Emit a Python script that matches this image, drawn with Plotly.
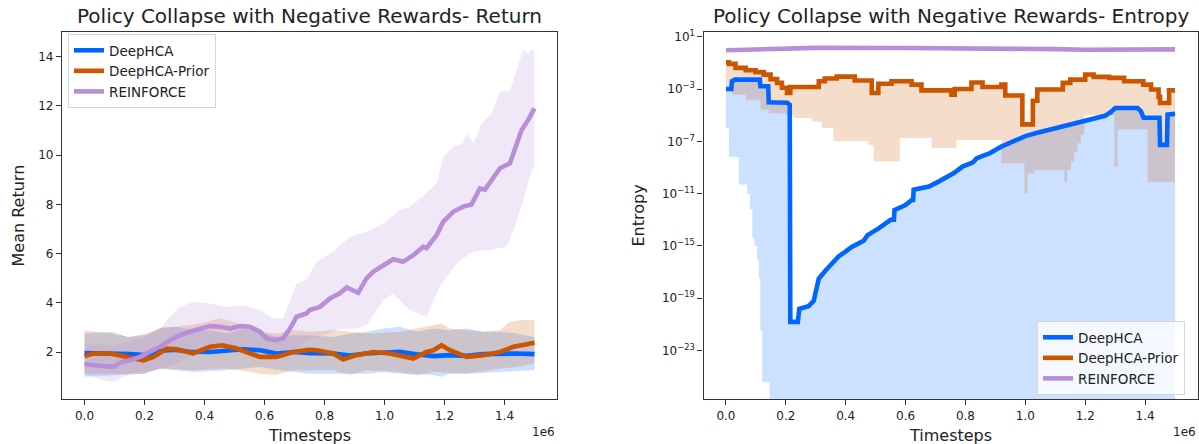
import numpy as np
import plotly.graph_objects as go

# ---------------- Return panel (timesteps in units of 1e6) ----------------
ret_hca_x = [0, 0.05, 0.09, 0.15, 0.2, 0.25, 0.3, 0.35, 0.42, 0.47, 0.53, 0.585, 0.64, 0.7,
             0.75, 0.83, 0.885, 0.94, 1.0, 1.05, 1.107, 1.163, 1.218, 1.274, 1.33, 1.385, 1.44, 1.5]
ret_hca_mean = [1.97, 1.96, 1.95, 1.92, 1.88, 2.05, 2.1, 2.02, 2.01, 2.08, 2.12, 2.08, 1.95, 2.01,
                1.96, 1.95, 1.86, 1.95, 2.01, 2.02, 1.92, 1.84, 1.88, 1.85, 1.92, 1.95, 1.95, 1.92]
ret_hca_up_x = [0, 0.09, 0.146, 0.2, 0.25, 0.307, 0.362, 0.418, 0.474, 0.53, 0.585, 0.64, 0.696,
                0.75, 0.829, 0.885, 0.94, 0.996, 1.051, 1.107, 1.163, 1.218, 1.274, 1.33, 1.385, 1.44, 1.5]
ret_hca_up = [2.76, 2.83, 2.62, 2.69, 2.96, 3.03, 2.89, 2.89, 2.76, 2.96, 2.83, 2.62, 2.69,
              2.69, 2.62, 2.76, 2.83, 2.96, 3.03, 2.83, 2.96, 2.89, 2.96, 2.83, 2.83, 2.76, 2.62]
ret_hca_lo_x = [0, 0.09, 0.2, 0.25, 0.307, 0.362, 0.474, 0.585, 0.696, 0.75, 0.829, 0.94, 0.996,
                1.051, 1.163, 1.19, 1.218, 1.274, 1.385, 1.5]
ret_hca_lo = [1.0, 1.07, 1.13, 1.34, 1.27, 1.2, 1.27, 1.4, 1.2, 1.13, 1.13, 1.13, 1.2,
              1.13, 1.07, 1.0, 1.13, 1.13, 1.2, 1.27]

ret_prior_x = [0, 0.03, 0.085, 0.14, 0.196, 0.23, 0.274, 0.307, 0.362, 0.418, 0.46, 0.507, 0.54,
               0.585, 0.64, 0.696, 0.75, 0.774, 0.829, 0.862, 0.907, 0.962, 1.018, 1.051, 1.096,
               1.14, 1.163, 1.19, 1.218, 1.274, 1.33, 1.385, 1.43, 1.5]
ret_prior_mean = [1.84, 1.95, 1.95, 1.81, 1.67, 1.81, 2.15, 2.12, 1.95, 2.22, 2.28, 2.15, 2.01,
                  1.81, 1.81, 2.01, 2.1, 2.08, 1.95, 1.7, 1.88, 2.01, 1.95, 1.88, 1.74,
                  2.01, 2.08, 2.28, 2.08, 1.81, 1.88, 2.01, 2.22, 2.38]
ret_prior_up_x = [0, 0.09, 0.146, 0.21, 0.263, 0.307, 0.385, 0.451, 0.496, 0.54, 0.585, 0.64, 0.696,
                  0.75, 0.829, 0.885, 0.94, 1.051, 1.19, 1.218, 1.274, 1.33, 1.385, 1.418, 1.46, 1.5]
ret_prior_up = [2.89, 2.76, 2.62, 2.76, 3.03, 3.03, 3.17, 3.37, 3.24, 3.03, 2.83, 2.76, 2.9,
                2.83, 2.9, 2.83, 2.76, 2.83, 3.17, 2.96, 2.9, 2.83, 2.9, 3.24, 3.31, 3.31]
ret_prior_lo_x = [0, 0.09, 0.2, 0.25, 0.362, 0.474, 0.585, 0.64, 0.696, 0.75, 0.829, 0.885, 0.94,
                  1.051, 1.107, 1.163, 1.274, 1.385, 1.44, 1.5]
ret_prior_lo = [1.13, 1.13, 1.13, 1.34, 1.27, 1.34, 1.13, 1.07, 1.27, 1.27, 1.27, 1.07, 1.27,
                1.2, 1.07, 1.2, 1.13, 1.34, 1.4, 1.54]

ret_rf_x = [0, 0.029, 0.062, 0.096, 0.124, 0.151, 0.185, 0.218, 0.251, 0.285, 0.318, 0.351, 0.385,
            0.418, 0.451, 0.485, 0.518, 0.551, 0.585, 0.607, 0.635, 0.662, 0.685, 0.707, 0.74,
            0.751, 0.785, 0.818, 0.851, 0.874, 0.912, 0.94, 0.962, 0.996, 1.029, 1.062, 1.096,
            1.129, 1.14, 1.174, 1.196, 1.229, 1.262, 1.29, 1.318, 1.335, 1.357, 1.385, 1.418,
            1.44, 1.457, 1.479, 1.5]
ret_rf_mean = [1.51, 1.47, 1.43, 1.40, 1.61, 1.67, 1.81, 2.01, 2.22, 2.49, 2.69, 2.83, 2.96,
               3.06, 3.03, 2.96, 3.06, 3.03, 2.83, 2.56, 2.49, 2.56, 2.96, 3.44, 3.57,
               3.71, 3.84, 4.18, 4.39, 4.63, 4.41, 5.0, 5.26, 5.54, 5.77, 5.67, 5.94,
               6.28, 6.22, 6.76, 7.3, 7.70, 7.91, 8.0, 8.65, 8.6, 9.0, 9.47, 9.67,
               10.48, 11.02, 11.43, 11.9]
ret_rf_up_x = [0, 0.1, 0.2, 0.25, 0.285, 0.318, 0.362, 0.418, 0.474, 0.529, 0.585, 0.629, 0.662,
               0.685, 0.707, 0.74, 0.774, 0.829, 0.885, 0.94, 0.996, 1.051, 1.085, 1.14, 1.174,
               1.196, 1.229, 1.262, 1.274, 1.296, 1.324, 1.357, 1.385, 1.418, 1.44, 1.462, 1.479,
               1.49, 1.5]
ret_rf_up = [2.3, 2.3, 2.6, 2.9, 3.44, 3.84, 4.04, 3.98, 3.84, 3.9, 3.71, 3.37, 3.37,
             4.11, 4.79, 4.93, 5.67, 6.08, 6.69, 6.89, 7.23, 7.77, 7.91, 8.45, 8.86,
             9.94, 10.35, 10.48, 10.89, 10.48, 11.3, 11.7, 12.58, 12.6, 13.47, 14.28, 14.15,
             14.28, 14.2]
ret_rf_lo_x = [0, 0.03, 0.062, 0.096, 0.13, 0.18, 0.25, 0.3, 0.35, 0.4, 0.5, 0.6, 0.7, 0.75, 0.8,
               0.85, 0.9, 0.94, 0.996, 1.029, 1.085, 1.14, 1.163, 1.19, 1.246, 1.296, 1.35,
               1.407, 1.43, 1.46, 1.49, 1.5]
ret_rf_lo = [1.13, 1.0, 0.86, 0.79, 1.0, 1.2, 1.3, 1.5, 1.8, 2.0, 2.1, 2.0, 2.1, 2.5, 2.7,
             2.95, 2.95, 3.1, 4.1, 4.38, 3.71, 3.44, 4.1, 4.79, 5.67, 6.08, 6.15,
             6.28, 6.96, 8.05, 9.4, 9.5]

# ---------------- Entropy panel (log10 of entropy) ----------------
# DeepHCA mean: vertices of the drawn curve (vertical jumps as repeated x)
ent_hca_x = [0.0, 0.018, 0.02, 0.03, 0.113, 0.115, 0.141, 0.143, 0.205, 0.213, 0.215, 0.24, 0.245,
             0.276, 0.293, 0.30, 0.31, 0.332, 0.354, 0.376, 0.398, 0.42, 0.443, 0.46, 0.473, 0.51,
             0.55, 0.561, 0.563, 0.60, 0.62, 0.625, 0.627, 0.678, 0.71, 0.73, 0.76, 0.79, 0.825,
             0.838, 0.882, 0.92, 0.96, 1.0, 1.04, 1.074, 1.113, 1.15, 1.19, 1.228, 1.266, 1.286,
             1.30, 1.375, 1.386, 1.395, 1.448, 1.45, 1.473, 1.475, 1.5]
ent_hca_log = [-3.0, -3.0, -2.4, -2.28, -2.28, -2.79, -2.79, -4.02, -4.05, -4.2, -20.8, -20.8, -19.8,
               -19.6, -19.2, -18.5, -17.5, -16.9, -16.35, -15.8, -15.45, -15.07, -14.8, -14.6, -14.17,
               -13.66, -13.0, -13.0, -12.25, -11.87, -11.49, -11.49, -10.7, -10.46, -10.08, -9.82,
               -9.44, -8.93, -8.6, -8.29, -7.9, -7.4, -7.0, -6.6, -6.35, -6.15, -5.9, -5.65, -5.45,
               -5.25, -5.05, -4.75, -4.45, -4.45, -4.7, -5.2, -5.2, -7.27, -7.27, -4.95, -4.9]
ent_hca_lo_x = [0.0, 0.01, 0.043, 0.071, 0.08, 0.088, 0.095, 0.104, 0.11, 0.115, 0.121, 0.146, 1.5]
ent_hca_lo_log = [-6.0, -8.2, -10.3, -11.0, -12.2, -14.4, -15.0, -16.1, -17.5, -21.5, -25.4, -40, -40]

ent_prior_x = [0.0, 0.01, 0.032, 0.066, 0.099, 0.126, 0.149, 0.171, 0.187, 0.204, 0.215, 0.31,
               0.33, 0.37, 0.43, 0.487, 0.509, 0.553, 0.62, 0.653, 0.753, 0.764, 0.82, 0.857,
               0.92, 0.933, 0.99, 1.025, 1.04, 1.11, 1.125, 1.15, 1.20, 1.228, 1.28, 1.33,
               1.394, 1.42, 1.445, 1.45, 1.48, 1.5]
ent_prior_log = [-0.95, -1.08, -1.38, -1.56, -1.71, -1.9, -2.24, -2.53, -2.9, -3.3, -2.85, -2.4,
                 -2.2, -2.05, -2.35, -3.3, -2.6, -2.4, -2.66, -3.1, -3.43, -3.0, -2.5, -2.84,
                 -2.66, -3.5, -5.7, -3.9, -3.04, -3.04, -2.53, -2.28, -1.89, -2.07, -2.15, -2.4,
                 -2.66, -3.04, -3.6, -4.07, -3.1, -3.1]
ent_prior_lo_x = [0.0, 0.021, 0.066, 0.115, 0.143, 0.2, 0.226, 0.287, 0.32, 0.359, 0.476, 0.493,
                  0.581, 0.687, 0.77, 0.92, 0.997, 1.008, 1.03, 1.13, 1.14, 1.152, 1.163, 1.174,
                  1.186, 1.197, 1.297, 1.308, 1.408, 1.5]
ent_prior_lo_log = [-2.9, -3.43, -3.82, -4.58, -4.86, -4.99, -5.22, -5.48, -5.98, -7.0, -7.3, -8.55,
                    -6.75, -7.5, -6.9, -8.67, -10.97, -9.44, -9.18, -10.1, -9.2, -8.55, -7.78, -7.14,
                    -6.5, -5.0, -8.93, -6.1, -10.1, -10.1]

ent_rf_x = [0.0, 0.1, 0.2, 0.3, 0.6, 0.9, 1.1, 1.2, 1.35, 1.5]
ent_rf_log = [-0.03, 0.05, 0.12, 0.15, 0.14, 0.12, 0.05, 0.0, 0.02, 0.03]

x_ticks = [0.0, 0.2, 0.4, 0.6, 0.8, 1.0, 1.2, 1.4]
ret_ticks = [2, 4, 6, 8, 10, 12, 14]
ent_tick_exp = [1, -3, -7, -11, -15, -19, -23]

names = ["DeepHCA", "DeepHCA-Prior", "REINFORCE"]
BLUE, ORANGE, PURPLE = "#0066ff", "#cc5500", "#b88ed8"
FONT = "DejaVu Sans"
W, H = 1199, 444


def rgba(h, a):
    h = h.lstrip("#")
    return "rgba(%d,%d,%d,%.2f)" % (int(h[0:2], 16), int(h[2:4], 16), int(h[4:6], 16), a)


fig = go.Figure()


def add_band(xl, yl, xu, yu, color, xa, ya, shape_lo="linear", shape_up="linear"):
    fig.add_trace(go.Scatter(x=xl, y=yl, mode="lines", line=dict(width=0, color=color, shape=shape_lo),
                             showlegend=False, hoverinfo="skip", xaxis=xa, yaxis=ya))
    fig.add_trace(go.Scatter(x=xu, y=yu, mode="lines", line=dict(width=0, color=color, shape=shape_up),
                             fill="tonexty", fillcolor=rgba(color, 0.2), showlegend=False,
                             hoverinfo="skip", xaxis=xa, yaxis=ya))


def add_line(x, y, color, name, xa, ya, legend, shape="linear"):
    fig.add_trace(go.Scatter(x=x, y=y, mode="lines", name=name,
                             line=dict(width=4.6, color=color, shape=shape),
                             xaxis=xa, yaxis=ya, legend=legend))


# Return panel
add_band(ret_hca_lo_x, ret_hca_lo, ret_hca_up_x, ret_hca_up, BLUE, "x", "y")
add_band(ret_prior_lo_x, ret_prior_lo, ret_prior_up_x, ret_prior_up, ORANGE, "x", "y")
add_band(ret_rf_lo_x, ret_rf_lo, ret_rf_up_x, ret_rf_up, PURPLE, "x", "y")
add_line(ret_hca_x, ret_hca_mean, BLUE, names[0], "x", "y", "legend")
add_line(ret_prior_x, ret_prior_mean, ORANGE, names[1], "x", "y", "legend")
add_line(ret_rf_x, ret_rf_mean, PURPLE, names[2], "x", "y", "legend")

# Entropy panel
p = lambda v: (10.0 ** np.array(v, dtype=float)).tolist()
add_band(ent_hca_lo_x, p(ent_hca_lo_log), ent_hca_x, p(ent_hca_log), BLUE, "x2", "y2", "hv", "linear")
add_band(ent_prior_lo_x, p(ent_prior_lo_log), ent_prior_x, p(ent_prior_log), ORANGE, "x2", "y2", "hv", "hv")
add_line(ent_hca_x, p(ent_hca_log), BLUE, names[0], "x2", "y2", "legend2", "linear")
add_line(ent_prior_x, p(ent_prior_log), ORANGE, names[1], "x2", "y2", "legend2", "hv")
add_line(ent_rf_x, p(ent_rf_log), PURPLE, names[2], "x2", "y2", "legend2", "linear")

ydom = [(H - 399) / H, (H - 32) / H]
axis_common = dict(showline=True, mirror=True, linecolor="#333", linewidth=1.3, ticks="outside",
                   ticklen=5, tickwidth=1.2, tickcolor="#333", showgrid=False, zeroline=False,
                   tickfont=dict(family=FONT, size=12, color="#222"), automargin=False)

legend_common = dict(bgcolor="rgba(255,255,255,0.8)", bordercolor="#d6d6d6", borderwidth=1,
                     traceorder="normal", font=dict(family=FONT, size=13.5, color="#222"))

fig.update_layout(
    width=W, height=H, margin=dict(l=0, r=0, t=0, b=0),
    paper_bgcolor="white", plot_bgcolor="white",
    font=dict(family=FONT, color="#222"),
    xaxis=dict(domain=[62 / W, 557 / W], range=[-0.075, 1.575], anchor="y",
               tickvals=x_ticks, ticktext=["%.1f" % t for t in x_ticks], **axis_common),
    yaxis=dict(domain=ydom, range=[0.1, 15.0], anchor="x",
               tickvals=ret_ticks, ticktext=[str(t) for t in ret_ticks], **axis_common),
    xaxis2=dict(domain=[703.5 / W, 1197.5 / W], range=[-0.075, 1.575], anchor="y2",
                tickvals=x_ticks, ticktext=["%.1f" % t for t in x_ticks], **axis_common),
    yaxis2=dict(domain=ydom, type="log", range=[-26.7, 1.36], anchor="x2",
                tickvals=[10.0 ** e for e in ent_tick_exp],
                ticktext=["10<sup>%s</sup>" % (str(e) if e >= 0 else "\u2212" + str(-e)) for e in ent_tick_exp],
                **axis_common),
    legend=dict(x=68 / W, y=1 - 34 / H, xanchor="left", yanchor="top", **legend_common),
    legend2=dict(x=1037 / W, y=1 - 321 / H, xanchor="left", yanchor="top", **legend_common),
    showlegend=True,
)

ann = [
    dict(text="Policy Collapse with Negative Rewards- Return", x=(62 + 557) / 2 / W, y=1 - 16 / H,
         font=dict(size=20)),
    dict(text="Policy Collapse with Negative Rewards- Entropy", x=(703.5 + 1197.5) / 2 / W, y=1 - 16 / H,
         font=dict(size=20)),
    dict(text="Timesteps", x=(62 + 557) / 2 / W, y=1 - 435.5 / H, font=dict(size=16)),
    dict(text="Timesteps", x=(703.5 + 1197.5) / 2 / W, y=1 - 435.5 / H, font=dict(size=16)),
    dict(text="Mean Return", x=18 / W, y=(ydom[0] + ydom[1]) / 2, textangle=-90, font=dict(size=16)),
    dict(text="Entropy", x=638 / W, y=(ydom[0] + ydom[1]) / 2, textangle=-90, font=dict(size=16)),
    dict(text="1e6", x=557 / W, y=1 - 432 / H, xanchor="right", font=dict(size=12)),
    dict(text="1e6", x=1197.5 / W, y=1 - 432 / H, xanchor="right", font=dict(size=12)),
]
for a in ann:
    a.setdefault("xanchor", "center")
    a.update(xref="paper", yref="paper", yanchor="middle", showarrow=False)
    a["font"].update(family=FONT, color="#222")
    fig.add_annotation(**a)

fig.write_html("out.html", config={"displayModeBar": False},
               post_script="document.body.style.margin='0px';")
